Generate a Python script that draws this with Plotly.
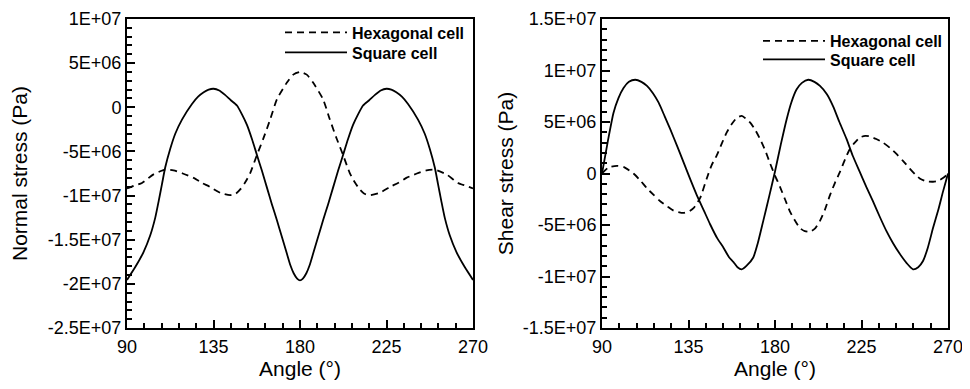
import plotly.graph_objects as go

# ---------------- data (values in Pa) ----------------
normal_sq_angle = [90, 94.3, 98.6, 102.1, 104.7, 106.5, 108.2, 109.9, 112.5, 115.1, 118.6,
                   123.8, 127, 129.9, 132.5, 135, 138, 141, 144, 147.2,
                   149.8, 152.4, 155, 157.6, 160.2, 162.8, 165.4, 168, 170.6, 173.2, 175,
                   176.7, 178.5, 180,
                   181.5, 183.3, 185, 186.8, 189.4, 192, 194.6, 197.2, 199.8, 202.4, 205,
                   207.6, 210.2, 212.8, 216, 219, 222, 225, 227.5, 230.1, 233, 236.2,
                   241.4, 244.9, 247.5, 250.1, 251.8, 253.5, 255.3, 257.9, 261.4, 265.7, 270]
normal_sq_value = [-19.55e6, -18.1e6, -16.4e6, -14.5e6, -12.5e6, -10.6e6, -8.7e6, -6.8e6,
                   -4.7e6, -3.0e6, -1.4e6, 0.37e6, 1.2e6, 1.7e6, 2.0e6, 2.1e6, 1.9e6, 1.4e6,
                   0.8e6, 0.2e6, -0.8e6, -2.0e6, -3.6e6, -5.4e6, -7.2e6, -9.1e6, -11.0e6,
                   -12.8e6, -14.7e6, -16.6e6, -17.9e6, -18.8e6, -19.4e6, -19.6e6,
                   -19.4e6, -18.8e6, -17.9e6, -16.6e6, -14.7e6, -12.8e6, -11.0e6, -9.1e6,
                   -7.2e6, -5.4e6, -3.6e6, -2.0e6, -0.8e6, 0.2e6, 0.8e6, 1.4e6, 1.9e6,
                   2.1e6, 2.0e6, 1.7e6, 1.2e6, 0.37e6, -1.4e6, -3.0e6, -4.7e6, -6.8e6,
                   -8.7e6, -10.6e6, -12.5e6, -14.5e6, -16.4e6, -18.1e6, -19.55e6]

normal_hex_angle = [90, 93.5, 97.8, 103.8, 109.9, 114.2, 119, 124.7, 129, 133, 138.6, 143.7,
                    146.5, 148.9, 151.5, 154.1, 157.6, 161, 164.6, 168, 173.2, 176.5, 180,
                    183.5, 186.8, 192, 195.4, 199, 202.4, 205.9, 208.5, 211.1, 213.5, 216.3,
                    221.4, 227, 231, 235.3, 240.8, 245.8, 250.1, 256.2, 262.2, 266.5, 270]
normal_hex_value = [-9.2e6, -8.9e6, -8.57e6, -7.6e6, -7.07e6, -7.15e6, -7.5e6, -8.0e6,
                    -8.57e6, -9.0e6, -9.7e6, -9.95e6, -9.8e6, -9.3e6, -8.5e6, -7.45e6,
                    -5.4e6, -3.5e6, -1.3e6, 0.9e6, 2.8e6, 3.7e6, 4.0e6,
                    3.7e6, 2.8e6, 0.9e6, -1.3e6, -3.5e6, -5.4e6, -7.45e6, -8.5e6, -9.3e6,
                    -9.8e6, -9.95e6, -9.7e6, -9.0e6, -8.57e6, -8.0e6, -7.5e6, -7.15e6,
                    -7.07e6, -7.6e6, -8.57e6, -8.9e6, -9.2e6]

shear_sq_angle = [90, 93, 96, 98.5, 101.2, 104, 107.3, 110.5, 113.4, 116.5, 119.4, 122.5, 125.5,
                  129, 132.4, 136, 139.3, 143, 146.3, 150, 153.2, 156, 158.4, 160.5, 162.7,
                  165, 168.7, 171, 173.9, 177, 180, 183, 186.1, 188.5, 191.2, 194, 197.3,
                  200.5, 203.4, 207, 210.3, 213.5, 217.2, 220.5, 224.1, 227.5, 231, 234.5,
                  238, 241.5, 244.9, 248.5, 251.8, 254.5, 257, 259.5, 262.2, 265, 267.4, 270]
shear_sq_value = [0.0, 3.1e6, 5.9e6, 7.3e6, 8.3e6, 8.9e6, 9.1e6, 8.9e6, 8.5e6, 7.8e6, 6.9e6,
                  5.6e6, 4.3e6, 2.7e6, 1.1e6, -0.6e6, -2.1e6, -3.6e6, -4.95e6, -6.3e6, -7.2e6,
                  -8.1e6, -8.6e6, -9.1e6, -9.3e6, -9.0e6, -8.15e6, -6.8e6, -4.6e6, -2.2e6,
                  0.2e6, 2.8e6, 5.3e6, 6.9e6, 8.15e6, 8.8e6, 9.1e6, 8.9e6, 8.5e6, 7.7e6,
                  6.5e6, 5.0e6, 3.36e6, 1.7e6, 0.16e6, -1.3e6, -2.7e6, -4.2e6, -5.6e6,
                  -6.8e6, -7.8e6, -8.7e6, -9.3e6, -9.1e6, -8.5e6, -7.2e6, -5.3e6, -3.5e6,
                  -1.76e6, 0.0]

shear_hex_angle = [90, 93.5, 97.8, 101.2, 106.4, 110, 113.4, 117, 120.3, 124, 127.2, 132.4,
                   135.5, 137.6, 141, 144.5, 147, 149.7, 152.3, 154.9, 157.5, 160.1, 162.7,
                   165, 167, 169.5, 172.2, 175, 177.4, 180, 182.6, 185.2, 187.8, 190.5, 193,
                   195.5, 198.2, 201, 203.4, 206, 208.6, 211.2, 213.8, 216.5, 219, 221.5,
                   224.1, 227, 229.3, 232.7, 236.2, 239.7, 243.2, 246.7, 250.1, 253, 255.3,
                   258.5, 262.2, 265, 268.3, 270]
shear_hex_value = [0.0, 0.6e6, 0.74e6, 0.64e6, 0.0, -0.7e6, -1.44e6, -2.1e6, -2.7e6, -3.2e6,
                   -3.6e6, -3.83e6, -3.65e6, -3.36e6, -2.4e6, -0.48e6, 0.8e6, 1.76e6, 2.9e6,
                   4.0e6, 4.8e6, 5.4e6, 5.6e6, 5.3e6, 4.96e6, 4.3e6, 3.36e6, 2.2e6, 1.0e6,
                   -0.2e6, -1.3e6, -2.5e6, -3.7e6, -4.6e6, -5.3e6, -5.6e6, -5.66e6, -5.3e6,
                   -4.6e6, -3.5e6, -2.1e6, -0.9e6, 0.16e6, 1.4e6, 2.4e6, 3.0e6, 3.5e6,
                   3.65e6, 3.6e6, 3.35e6, 3.0e6, 2.5e6, 1.9e6, 1.2e6, 0.48e6, -0.1e6,
                   -0.48e6, -0.75e6, -0.8e6, -0.7e6, -0.32e6, 0.0]

angle_ticks = [90, 135, 180, 225, 270]
normal_ticks = [1e7, 5e6, 0, -5e6, -1e7, -1.5e7, -2e7, -2.5e7]
normal_tick_text = ["1E+07", "5E+06", "0", "-5E+06", "-1E+07", "-1.5E+07", "-2E+07", "-2.5E+07"]
shear_ticks = [1.5e7, 1e7, 5e6, 0, -5e6, -1e7, -1.5e7]
shear_tick_text = ["1.5E+07", "1E+07", "5E+06", "0", "-5E+06", "-1E+07", "-1.5E+07"]

series_names = ["Hexagonal cell", "Square cell"]

# ---------------- figure ----------------
FONT = "Liberation Sans, Arial, Helvetica, sans-serif"
W, H = 970, 389
OFF = 8  # the page body has an 8px default margin; compensate so the chart lands where intended
fig = go.Figure()

line_hex = dict(color="black", width=1.8, dash="7px,5px", shape="spline", smoothing=0.6)
line_sq = dict(color="black", width=1.8, shape="spline", smoothing=0.6)

fig.add_trace(go.Scatter(x=normal_hex_angle, y=normal_hex_value, mode="lines", name=series_names[0],
                         line=line_hex, xaxis="x", yaxis="y", legend="legend"))
fig.add_trace(go.Scatter(x=normal_sq_angle, y=normal_sq_value, mode="lines", name=series_names[1],
                         line=line_sq, xaxis="x", yaxis="y", legend="legend2"))
fig.add_trace(go.Scatter(x=shear_hex_angle, y=shear_hex_value, mode="lines", name=series_names[0],
                         line=line_hex, xaxis="x2", yaxis="y2", legend="legend3"))
fig.add_trace(go.Scatter(x=shear_sq_angle, y=shear_sq_value, mode="lines", name=series_names[1],
                         line=line_sq, xaxis="x2", yaxis="y2", legend="legend4"))

xdom1 = [(127 - OFF) / W, (473 - OFF) / W]
xdom2 = [(602 - OFF) / W, (948 - OFF) / W]
ydom = [1 - (328 - OFF) / H, 1 - (19 - OFF) / H]

def xaxis(domain, anchor):
    return dict(domain=domain, anchor=anchor, range=[90, 270], tickvals=angle_ticks,
                ticks="inside", ticklen=8, tickwidth=1.5, tickcolor="black",
                minor=dict(dtick=9, ticks="inside", ticklen=5, tickwidth=1.5, tickcolor="black"),
                showline=True, linecolor="black", linewidth=2, mirror=True,
                showgrid=False, zeroline=False, automargin=False,
                ticklabelstandoff=1, ticklabeloverflow="allow",
                tickfont=dict(family=FONT, size=18, color="black"),
                title=dict(text="Angle (°)", font=dict(family=FONT, size=21, color="black"), standoff=5))

def yaxis(domain, anchor, rng, tv, tt, title, standoff):
    return dict(domain=domain, anchor=anchor, range=rng, tickvals=tv, ticktext=tt,
                ticks="inside", ticklen=8, tickwidth=1.5, tickcolor="black",
                minor=dict(dtick=1e6, ticks="inside", ticklen=5, tickwidth=1.5, tickcolor="black"),
                showline=True, linecolor="black", linewidth=2, mirror=True,
                showgrid=False, zeroline=False, automargin=False, ticklabeloverflow="allow",
                tickfont=dict(family=FONT, size=18, color="black"),
                title=dict(text=title, font=dict(family=FONT, size=21, color="black"), standoff=standoff))

legend_common = dict(font=dict(family=FONT, size=16, color="black", weight="bold"),
                     bgcolor="rgba(0,0,0,0)", borderwidth=0, itemwidth=62,
                     xanchor="left", yanchor="middle")

fig.update_layout(
    width=W, height=H,
    margin=dict(l=0, r=0, t=0, b=0),
    paper_bgcolor="white", plot_bgcolor="white",
    showlegend=True,
    xaxis=xaxis(xdom1, "y"),
    yaxis=yaxis(ydom, "x", [-2.5e7, 1e7], normal_ticks, normal_tick_text, "Normal stress (Pa)", 24),
    xaxis2=xaxis(xdom2, "y2"),
    yaxis2=yaxis(ydom, "x2", [-1.5e7, 1.5e7], shear_ticks, shear_tick_text, "Shear stress (Pa)", 3),
    legend=dict(x=272 / W, y=1 - 24.5 / H, **legend_common),
    legend2=dict(x=272 / W, y=1 - 44.5 / H, **legend_common),
    legend3=dict(x=750 / W, y=1 - 33 / H, **legend_common),
    legend4=dict(x=750 / W, y=1 - 51.5 / H, **legend_common),
)

fig.write_html("out.html")
